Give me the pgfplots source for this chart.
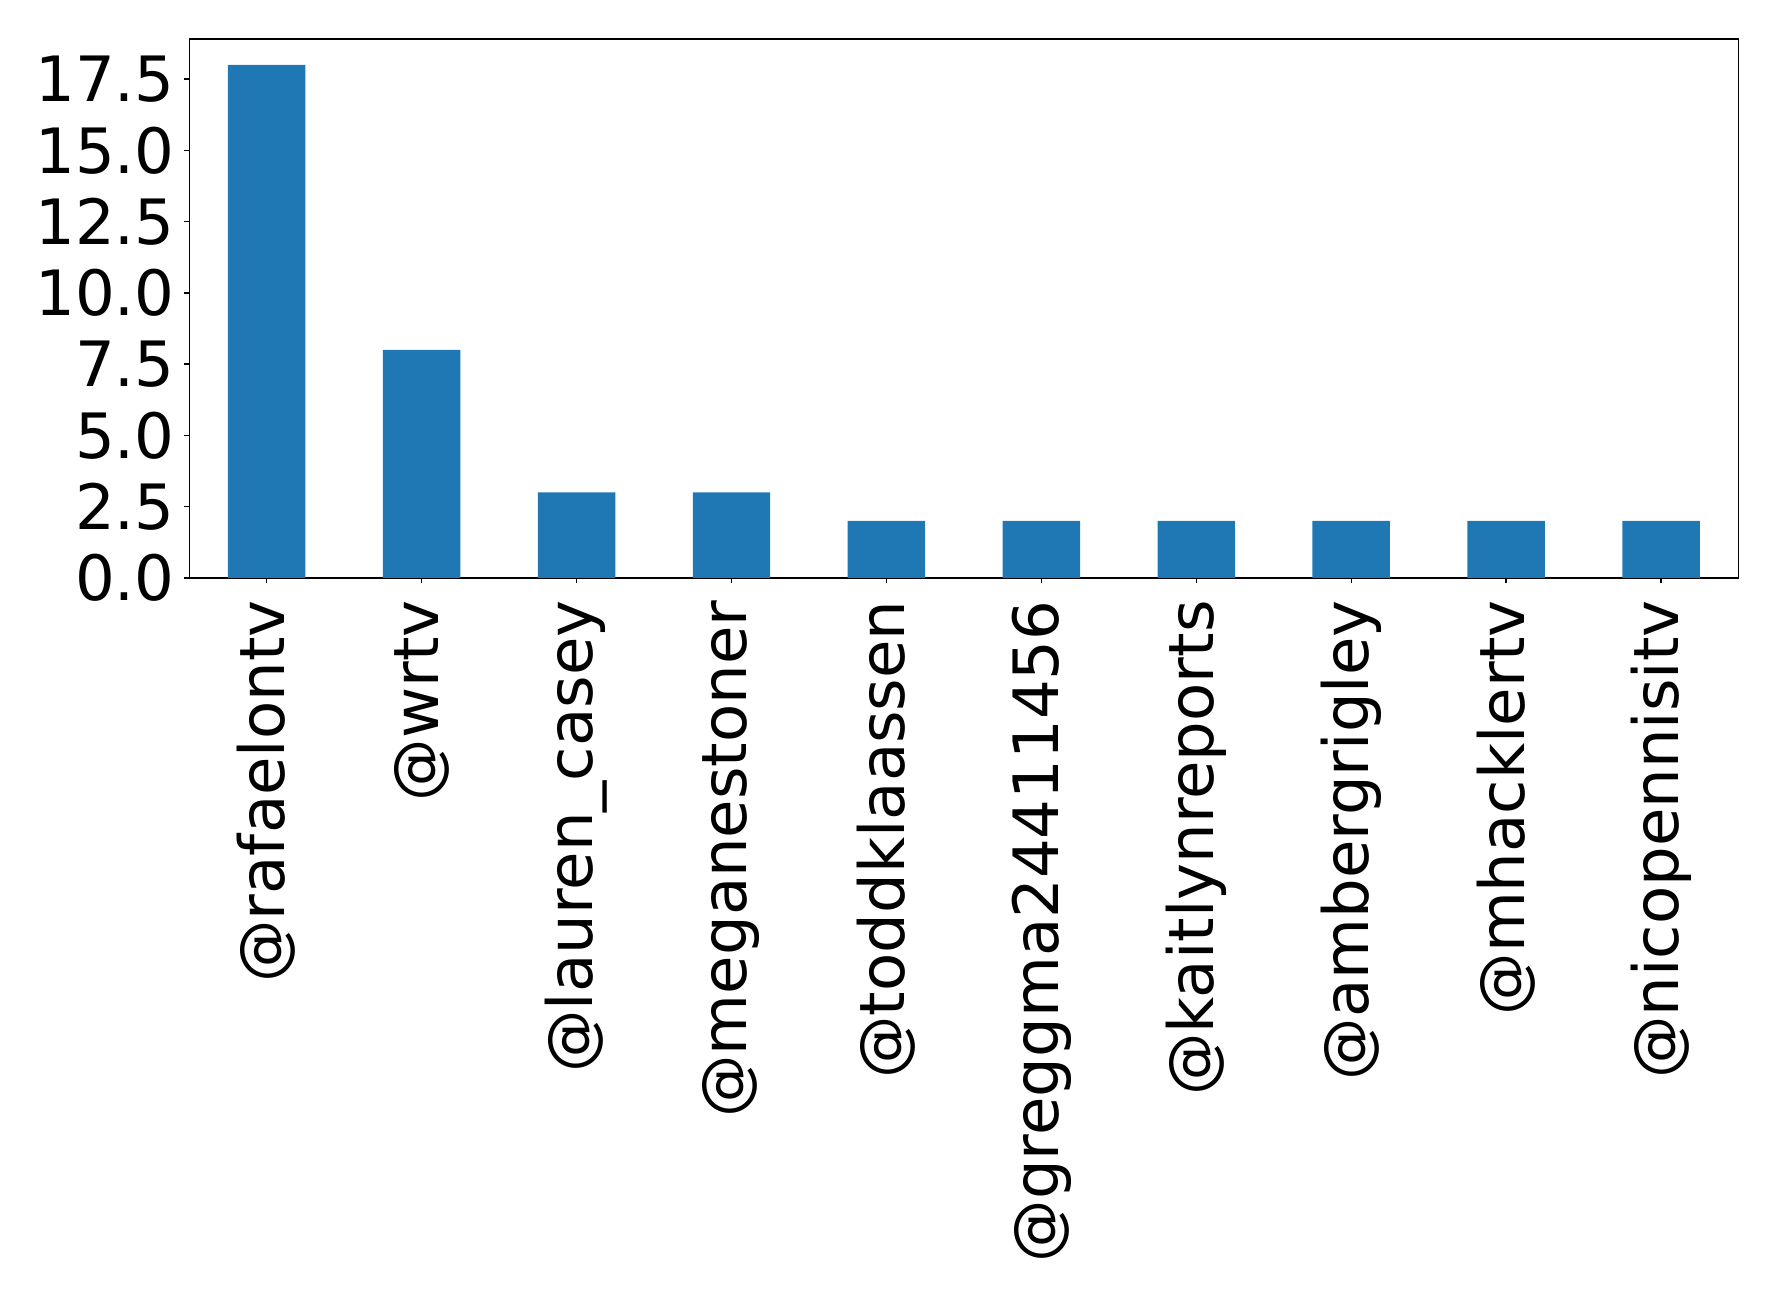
\documentclass[border=0pt]{standalone}
\usepackage{fontspec}
\setmainfont{DejaVu Sans}
\usepackage{pgfplots}
\pgfplotsset{compat=1.18}
\definecolor{mplblue}{HTML}{1F77B4}

\begin{document}
\begin{tikzpicture}
  % fixes page size to the reference proportions
  \path[use as bounding box] (-68.1pt,-255.9pt) rectangle (571.8pt,208.0pt);
  \begin{axis}[
    at={(0,0)}, anchor=south west,
    scale only axis,
    width=557.6pt, height=193.9pt,
    xmin=-0.5, xmax=9.5, ymin=0, ymax=18.9,
    xtick=data,
    xticklabels={@rafaelontv,@wrtv,@lauren\_casey,@meganestoner,@toddklaassen,
      @greggma24411456,@kaitlynreports,@ambergrigley,@mhacklertv,@nicopennisitv},
    x tick label style={rotate=90, anchor=east, inner sep=0pt},
    y tick label style={anchor=east, inner sep=0pt},
    xtick align=outside, ytick align=outside,
    major tick length=1.9pt,
    xtick pos=bottom, ytick pos=left,
    ytick={0,2.5,5,7.5,10,12.5,15,17.5},
    yticklabel style={/pgf/number format/.cd, fixed, fixed zerofill, precision=1},
    /pgf/number format/assume math mode=true,
    tick label style={font=\fontsize{22.5}{27}\selectfont, black},
    xticklabel shift=6pt,
    yticklabel shift=3.2pt,
    axis line style={line width=0.5pt},
    tick style={line width=0.5pt, black},
  ]
  \addplot[ybar, bar width=0.5, fill=mplblue, draw=none] coordinates {
    (0,18) (1,8) (2,3) (3,3) (4,2) (5,2) (6,2) (7,2) (8,2) (9,2)
  };
  \end{axis}
\end{tikzpicture}
\end{document}
